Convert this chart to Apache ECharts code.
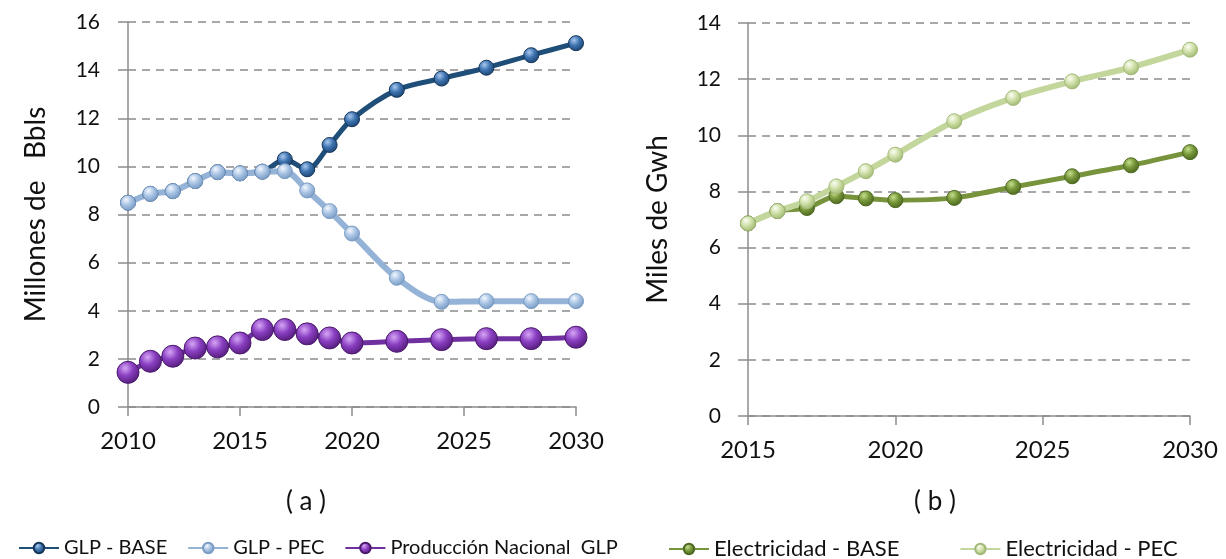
<!DOCTYPE html>
<html>
<head>
<meta charset="utf-8">
<script src="https://cdn.jsdelivr.net/npm/echarts@6/dist/echarts.min.js"></script>
<style>
  html, body { margin: 0; padding: 0; background: #fff; }
  #chart { width: 1226px; height: 559px; }
</style>
</head>
<body>
<div id="chart"></div>
<script>
// (a) GLP, millones de barriles
const yearsA = [2010, 2011, 2012, 2013, 2014, 2015, 2016, 2017, 2018, 2019, 2020, 2022, 2024, 2026, 2028, 2030];
const glpBase = [8.49, 8.86, 8.97, 9.39, 9.76, 9.71, 9.78, 10.29, 9.88, 10.89, 11.96, 13.18, 13.65, 14.1, 14.62, 15.12];
const glpPec = [8.49, 8.86, 8.97, 9.39, 9.76, 9.71, 9.78, 9.8, 9.0, 8.14, 7.21, 5.37, 4.37, 4.4, 4.4, 4.4];
const produccion = [1.44, 1.9, 2.11, 2.45, 2.5, 2.66, 3.22, 3.22, 3.04, 2.87, 2.66, 2.73, 2.8, 2.84, 2.84, 2.9];

// (b) Electricidad, miles de GWh
const yearsB = [2015, 2016, 2017, 2018, 2019, 2020, 2022, 2024, 2026, 2028, 2030];
const elecBase = [6.86, 7.3, 7.41, 7.83, 7.75, 7.69, 7.77, 8.16, 8.54, 8.93, 9.4];
const elecPec = [6.86, 7.3, 7.65, 8.18, 8.72, 9.31, 10.5, 11.33, 11.92, 12.42, 13.05];

const FONT = 'Lato';
const chart = echarts.init(document.getElementById('chart'));

// esfera 3D tipo Excel
function sphere(hi, mid, lo) {
  return {
    type: 'radial', x: 0.38, y: 0.32, r: 0.75,
    colorStops: [
      { offset: 0, color: hi },
      { offset: 0.45, color: mid },
      { offset: 1, color: lo }
    ]
  };
}

function lineSeries(name, xs, ys, idx, opts) {
  return {
    name: name,
    type: 'line',
    xAxisIndex: idx,
    yAxisIndex: idx,
    smooth: 0.3,
    symbol: 'circle',
    symbolSize: opts.size,
    data: xs.map((x, i) => [x, ys[i]]),
    lineStyle: { color: opts.line, width: opts.width },
    itemStyle: { color: sphere(opts.hi, opts.mid, opts.lo), borderColor: opts.border, borderWidth: 1 },
    emphasis: { disabled: true }
  };
}

const axisGray = '#8c8c8c';

function yAxis(idx, max, name, gap, margin) {
  return {
    type: 'value',
    gridIndex: idx,
    min: 0,
    max: max,
    interval: 2,
    name: name,
    nameLocation: 'middle',
    nameGap: gap,
    nameTextStyle: { fontFamily: FONT, fontSize: 28, color: '#111' },
    axisLine: { show: true, lineStyle: { color: axisGray, width: 1.5 } },
    axisTick: { show: true, length: 10, lineStyle: { color: axisGray, width: 1.5 } },
    axisLabel: { fontFamily: FONT, fontSize: 21, color: '#111', margin: margin },
    splitLine: { show: true, lineStyle: { color: '#8a8a8a', type: [8, 6], width: 1.5 } }
  };
}

function xAxis(idx, min) {
  return {
    type: 'value',
    gridIndex: idx,
    min: min,
    max: 2030,
    interval: 5,
    axisLine: { show: true, onZero: false, lineStyle: { color: axisGray, width: 1.5 } },
    axisTick: { show: true, length: 9, lineStyle: { color: axisGray, width: 1.5 } },
    axisLabel: { fontFamily: FONT, fontSize: 24, color: '#111', margin: 22, formatter: v => String(v) },
    splitLine: { show: false }
  };
}

const option = {
  animation: false,
  backgroundColor: '#fff',
  grid: [
    { left: 128, right: 650, top: 22, bottom: 152 },
    { left: 748, right: 36, top: 23, bottom: 143 }
  ],
  xAxis: [xAxis(0, 2010), xAxis(1, 2015)],
  yAxis: [
    yAxis(0, 16, 'Millones de   Bbls', 78, 28),
    yAxis(1, 14, 'Miles de Gwh', 76, 27)
  ],
  legend: [
    {
      data: ['GLP - BASE', 'GLP - PEC', 'Producción Nacional  GLP'],
      left: 13, top: 533,
      itemWidth: 40, itemHeight: 13, itemGap: 20,
      textStyle: { fontFamily: FONT, fontSize: 20, color: '#111' }
    },
    {
      data: ['Electricidad - BASE', 'Electricidad - PEC'],
      left: 663, top: 533,
      itemWidth: 40, itemHeight: 13, itemGap: 60,
      textStyle: { fontFamily: FONT, fontSize: 22, color: '#111' }
    }
  ],
  graphic: [
    { type: 'text', x: 306, y: 489, style: { text: '( a )', font: '26px ' + FONT, fill: '#111', textAlign: 'center' } },
    { type: 'text', x: 935, y: 489, style: { text: '( b )', font: '26px ' + FONT, fill: '#111', textAlign: 'center' } }
  ],
  series: [
    lineSeries('GLP - BASE', yearsA, glpBase, 0,
      { size: 15, line: '#1f4e79', width: 5, hi: '#a9c8ee', mid: '#3d73b0', lo: '#163d66', border: '#15365a' }),
    lineSeries('GLP - PEC', yearsA, glpPec, 0,
      { size: 15, line: '#95b3d7', width: 6, hi: '#f2f7fd', mid: '#a9c4e4', lo: '#6f93bd', border: '#7b9cc4' }),
    lineSeries('Producción Nacional  GLP', yearsA, produccion, 0,
      { size: 22, line: '#7030a0', width: 5, hi: '#d6a6f5', mid: '#8a3fc2', lo: '#4c1870', border: '#4a1a6c' }),
    lineSeries('Electricidad - BASE', yearsB, elecBase, 1,
      { size: 15, line: '#77933c', width: 5, hi: '#c6df8e', mid: '#77973a', lo: '#46601c', border: '#4f6a22' }),
    lineSeries('Electricidad - PEC', yearsB, elecPec, 1,
      { size: 15, line: '#c3d69b', width: 6, hi: '#fbfdf3', mid: '#cfe0a8', lo: '#99b168', border: '#a3b97a' })
  ]
};

chart.setOption(option);
</script>
</body>
</html>
